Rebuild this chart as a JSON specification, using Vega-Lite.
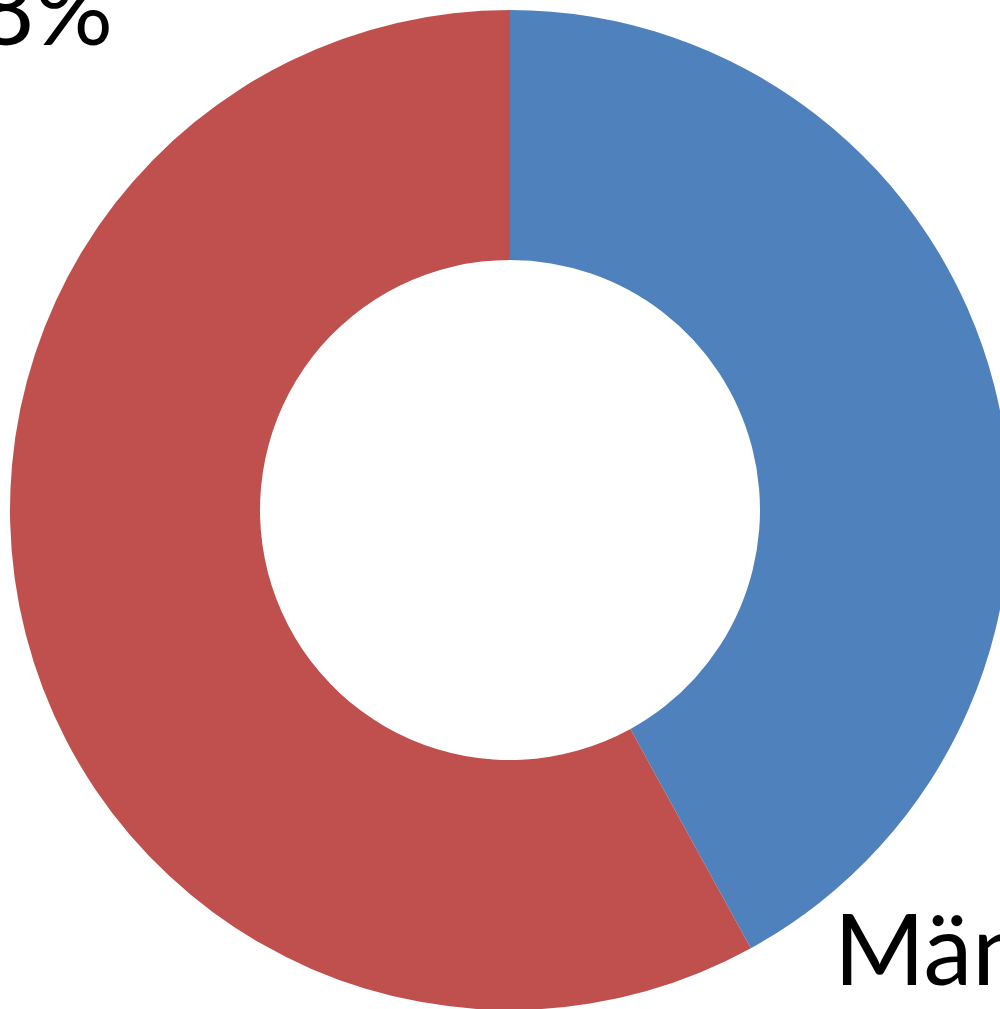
{
  "$schema": "https://vega.github.io/schema/vega-lite/v6.json",
  "width": 1000,
  "height": 1009,
  "padding": 0,
  "autosize": {"type": "none"},
  "background": "white",
  "config": {"view": {"stroke": null}},
  "data": {
    "values": [
      {"category": "Männer", "value": 42, "order": 1, "label": "Männer\n42%"},
      {"category": "Frauen", "value": 58, "order": 2, "label": "Frauen\n58%"}
    ]
  },
  "layer": [
    {
      "mark": {"type": "arc", "x": 510, "y": 510, "outerRadius": 500, "innerRadius": 250},
      "encoding": {
        "theta": {"field": "value", "type": "quantitative", "stack": true},
        "order": {"field": "order", "type": "quantitative"},
        "color": {
          "field": "category",
          "type": "nominal",
          "scale": {"domain": ["Männer", "Frauen"], "range": ["#4F81BD", "#C0504D"]},
          "legend": null
        }
      }
    },
    {
      "transform": [{"filter": "datum.category === 'Männer'"}],
      "mark": {"type": "text", "x": 834, "y": 985, "align": "left", "baseline": "alphabetic", "font": "Lato", "fontSize": 98, "lineBreak": "\n", "lineHeight": 130, "color": "black"},
      "encoding": {"text": {"field": "label"}}
    },
    {
      "transform": [{"filter": "datum.category === 'Frauen'"}],
      "mark": {"type": "text", "x": 113, "y": -85, "align": "right", "baseline": "alphabetic", "font": "Lato", "fontSize": 98, "lineBreak": "\n", "lineHeight": 130, "color": "black"},
      "encoding": {"text": {"field": "label"}}
    }
  ]
}
